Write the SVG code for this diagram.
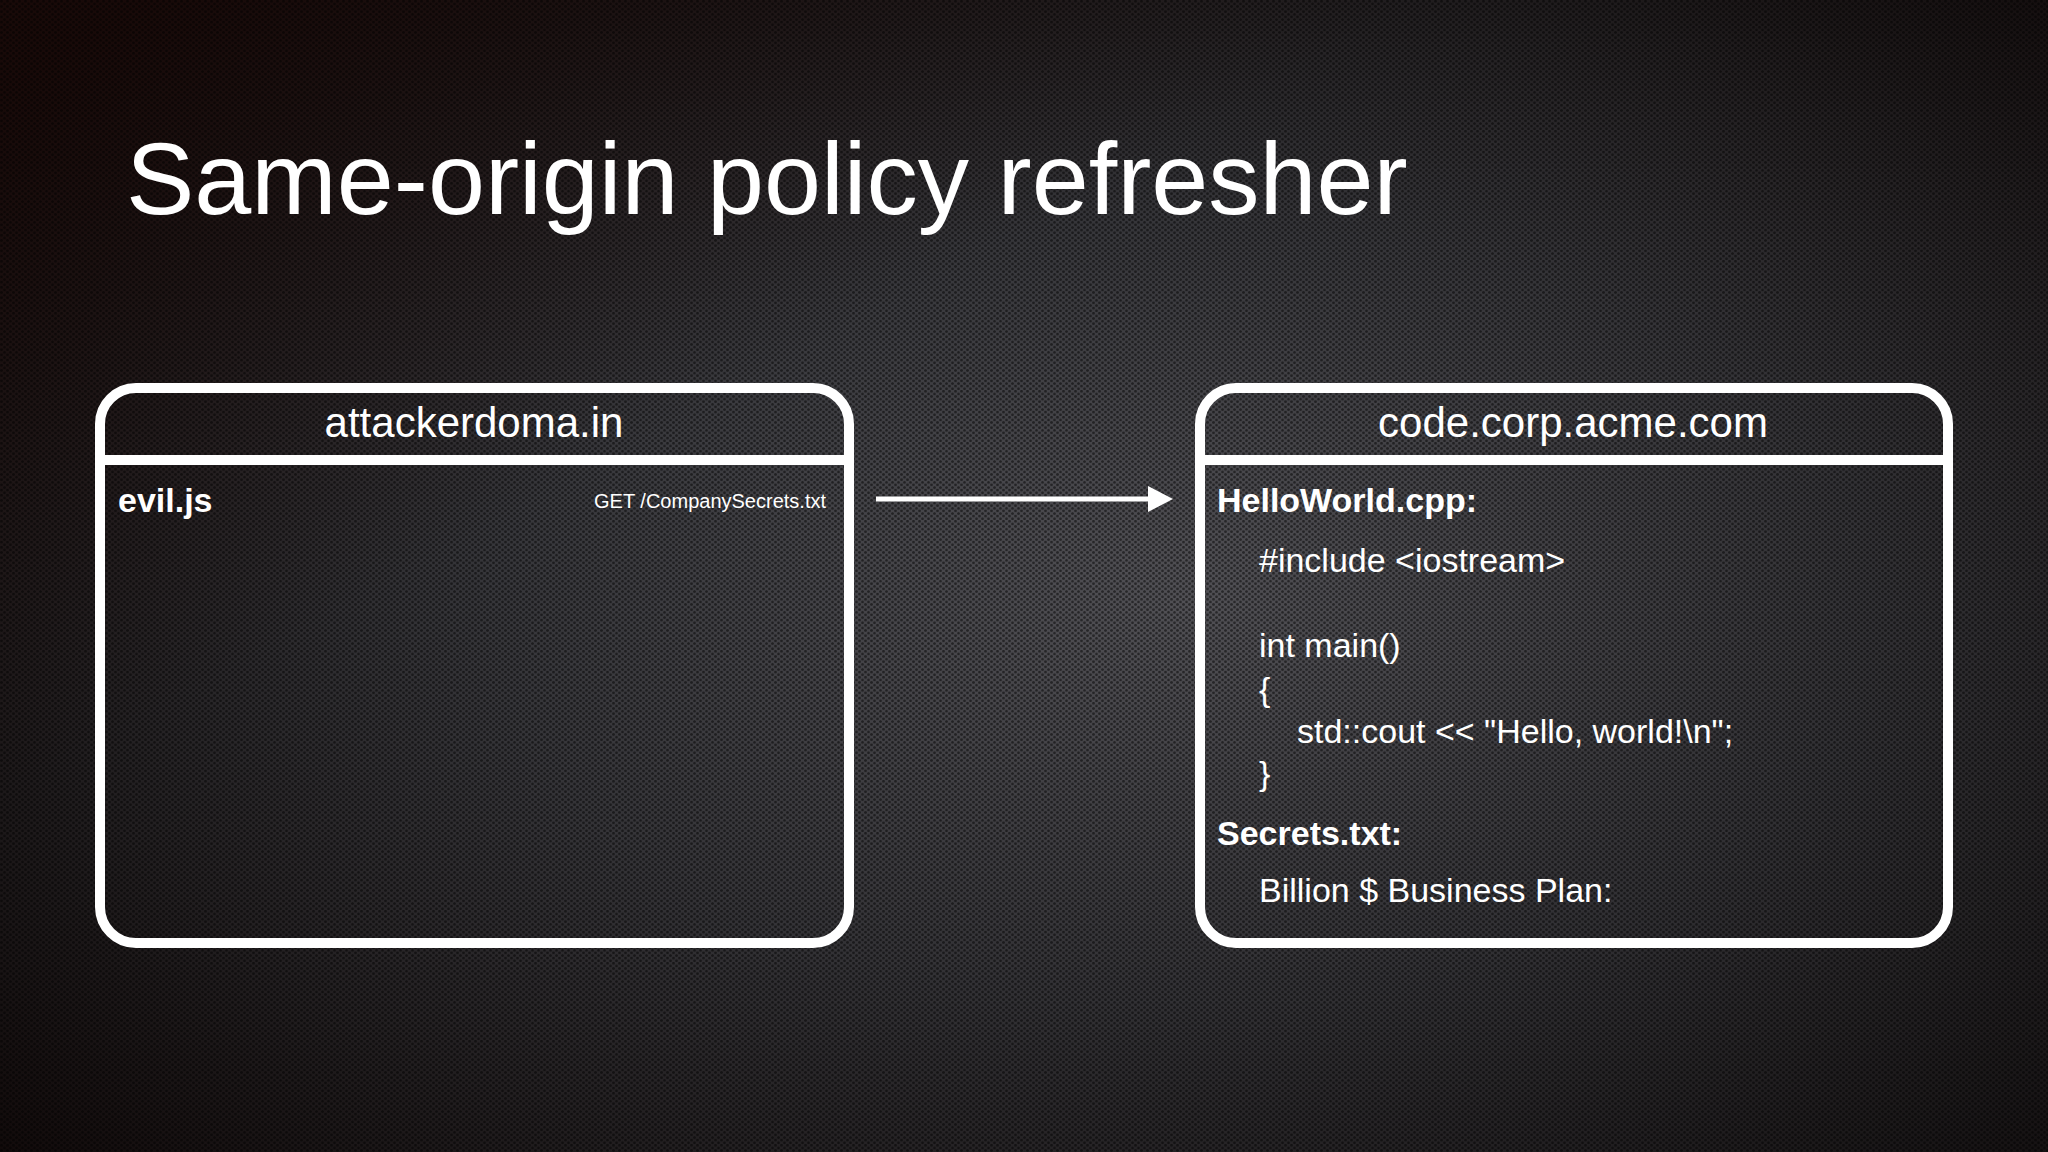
<svg xmlns="http://www.w3.org/2000/svg" width="2048" height="1152" viewBox="0 0 2048 1152">
  <defs>
    <radialGradient id="bg" cx="0.58" cy="0.55" r="0.75" fx="0.58" fy="0.52">
      <stop offset="0" stop-color="#55555a"/>
      <stop offset="0.45" stop-color="#36363a"/>
      <stop offset="0.8" stop-color="#1c1819"/>
      <stop offset="1" stop-color="#100909"/>
    </radialGradient>
    <linearGradient id="tint" x1="0" y1="0" x2="1" y2="1">
      <stop offset="0" stop-color="#1c0a08" stop-opacity="0.75"/>
      <stop offset="0.35" stop-color="#1c0a08" stop-opacity="0"/>
      <stop offset="1" stop-color="#000" stop-opacity="0.2"/>
    </linearGradient>
    <pattern id="perf" width="6" height="5.2" patternUnits="userSpaceOnUse">
      <circle cx="1.5" cy="1.3" r="1.4" fill="#000" fill-opacity="0.5"/>
      <circle cx="4.5" cy="3.9" r="1.4" fill="#000" fill-opacity="0.5"/>
    </pattern>
    <style>
      .box { fill: none; stroke: #ffffff; stroke-width: 10; }
      .hdr { fill: none; stroke: #ffffff; stroke-width: 10; }
      text { font-family: "Liberation Sans", Arial, Helvetica, sans-serif; fill: #ffffff; }
      .title { font-size: 102.5px; }
      .host { font-size: 42px; text-anchor: middle; }
      .bold { font-size: 34px; font-weight: bold; }
      .code { font-size: 34px; }
      .small { font-size: 20px; text-anchor: end; }
    </style>
  </defs>

  <rect width="2048" height="1152" fill="url(#bg)"/>
  <rect width="2048" height="1152" fill="url(#tint)"/>
  <rect width="2048" height="1152" fill="url(#perf)"/>

  <text class="title" x="126" y="214">Same-origin policy refresher</text>

  <g id="attacker">
    <rect class="box" x="100" y="388" width="749" height="555" rx="36" ry="36"/>
    <line class="hdr" x1="100" y1="460" x2="849" y2="460"/>
    <text class="host" x="474" y="437">attackerdoma.in</text>
    <text class="bold" x="118" y="512">evil.js</text>
    <text class="small" x="826" y="508">GET /CompanySecrets.txt</text>
  </g>

  <g id="server">
    <rect class="box" x="1200" y="388" width="748" height="555" rx="36" ry="36"/>
    <line class="hdr" x1="1200" y1="460" x2="1948" y2="460"/>
    <text class="host" x="1573" y="437">code.corp.acme.com</text>
    <text class="bold" x="1217" y="512">HelloWorld.cpp:</text>
    <text class="code" x="1259" y="572">#include &lt;iostream&gt;</text>
    <text class="code" x="1259" y="657">int main()</text>
    <text class="code" x="1259" y="701">{</text>
    <text class="code" x="1297" y="743">std::cout &lt;&lt; "Hello, world!\n";</text>
    <text class="code" x="1259" y="785">}</text>
    <text class="bold" x="1217" y="845">Secrets.txt:</text>
    <text class="code" x="1259" y="902">Billion $ Business Plan:</text>
  </g>

  <g id="connectors">
    <line x1="876" y1="499" x2="1150" y2="499" stroke="#ffffff" stroke-width="5"/>
    <polygon points="1148,486 1173,499 1148,512" fill="#ffffff"/>
  </g>
</svg>
